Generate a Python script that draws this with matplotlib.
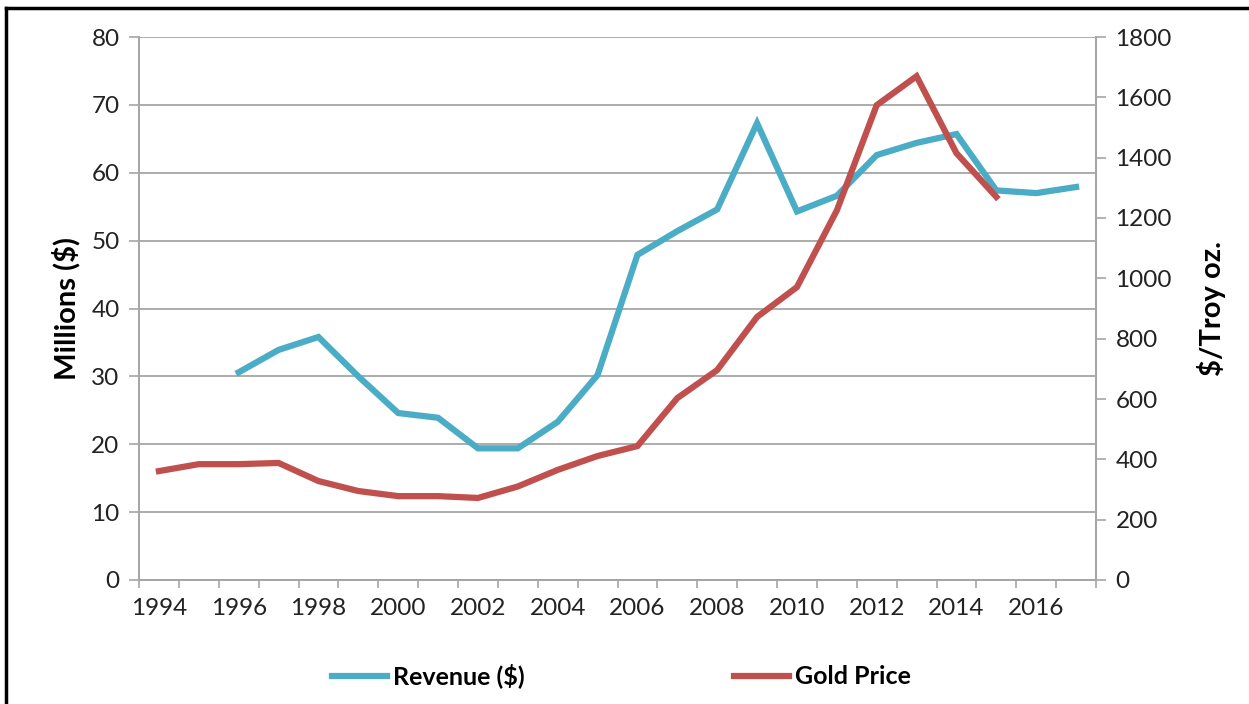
import matplotlib.pyplot as plt
from matplotlib.lines import Line2D

plt.rcParams['font.family'] = ['Lato', 'DejaVu Sans']

years = list(range(1994, 2018))
revenue = [None, None, 30.6, 33.9, 35.8, 30.0, 24.6, 23.9, 19.4, 19.4, 23.3, 30.2,
           47.9, 51.4, 54.6, 67.3, 54.3, 56.6, 62.6, 64.4, 65.7, 57.4, 57.0, 57.9]
gold = [361, 384, 384, 388, 328, 295, 278, 278, 272, 310, 365, 411,
        444, 603, 696, 872, 971, 1225, 1574, 1670, 1415, 1270, None, None]

BLUE = '#4BACC6'
RED = '#C0504D'
GRID = '#A6A6A6'

fig = plt.figure(figsize=(12.49, 7.04), dpi=100)
ax = fig.add_axes([139 / 1249, 1 - 580 / 704, (1096 - 139) / 1249, (580 - 37) / 704])
ax2 = ax.twinx()

x = list(range(len(years)))
rx = [i for i, v in zip(x, revenue) if v is not None]
ry = [v for v in revenue if v is not None]
gx = [i for i, v in zip(x, gold) if v is not None]
gy = [v for v in gold if v is not None]

ax.plot(rx, ry, color=BLUE, lw=4.5, solid_joinstyle='miter', zorder=3)
ax2.plot(gx, gy, color=RED, lw=4.5, solid_joinstyle='miter', zorder=3)

ax.set_xlim(-0.5, len(years) - 0.5)
ax.set_ylim(0, 80)
ax2.set_ylim(0, 1800)
ax.set_yticks(range(0, 81, 10))
ax2.set_yticks(range(0, 1801, 200))

# year labels every other category, tick marks between categories
ax.set_xticks(x[::2])
ax.set_xticklabels([str(y) for y in years[::2]])
ax.set_xticks([i - 0.5 for i in range(len(years) + 1)], minor=True)
ax.tick_params(axis='x', which='major', length=0, pad=13, labelsize=17.5, colors='#222222')
ax.tick_params(axis='x', which='minor', length=6, width=1.2, color=GRID)
ax.tick_params(axis='y', length=7, width=1.2, color=GRID, labelsize=17.5, labelcolor='#222222', pad=7)
ax2.tick_params(axis='y', length=7, width=1.2, color=GRID, labelsize=17.5, labelcolor='#222222', pad=7)

ax.grid(axis='y', color=GRID, lw=1.3)
ax.set_axisbelow(True)
for a in (ax, ax2):
    a.spines['top'].set_visible(False)
    for s in ('left', 'right', 'bottom'):
        a.spines[s].set_color(GRID)
        a.spines[s].set_linewidth(1.3)

ax.set_ylabel('Millions ($)', fontsize=21, fontweight='bold', labelpad=8)
ax2.set_ylabel('$/Troy oz.', fontsize=21, fontweight='bold', labelpad=18)

handles = [Line2D([], [], color=BLUE, lw=4.5), Line2D([], [], color=RED, lw=4.5)]
fig.legend(handles, ['Revenue ($)', 'Gold Price'], loc='center',
           bbox_to_anchor=(0.4976, 1 - 676 / 704), ncol=2, frameon=False,
           prop={'size': 18, 'weight': 'bold'}, handlelength=2.2,
           handletextpad=0.24, columnspacing=8.4)

# outer frame (left and top edges visible)
fig.add_artist(Line2D([6 / 1249, 6 / 1249], [0, 1 - 8 / 704], color='black', lw=2.5,
                      transform=fig.transFigure))
fig.add_artist(Line2D([6 / 1249, 1], [1 - 8 / 704, 1 - 8 / 704], color='black', lw=2.5,
                      transform=fig.transFigure))

fig.savefig('out.png', dpi=100)
